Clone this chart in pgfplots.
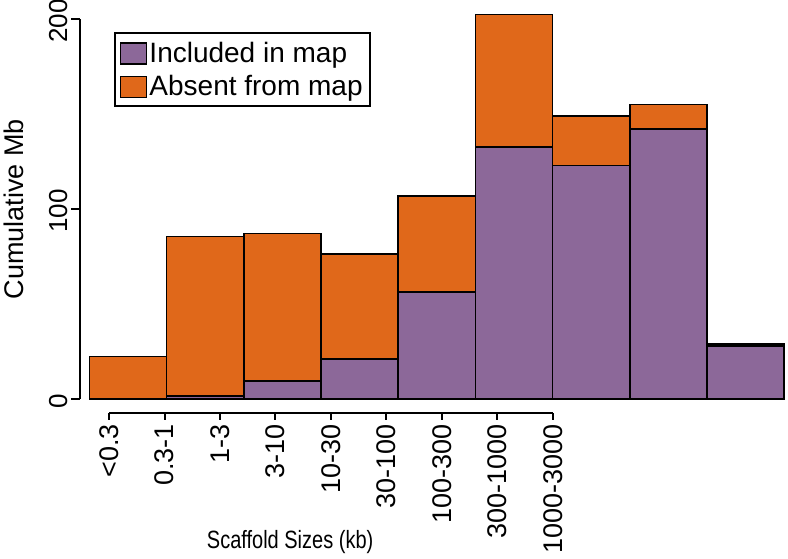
\documentclass[border=0pt]{standalone}
\usepackage{pgfplots}
\pgfplotsset{compat=1.18}
\usepackage{fontspec}
\setmainfont{Liberation Sans}
\usepackage{graphicx}

\definecolor{incl}{HTML}{8C6899}
\definecolor{absent}{HTML}{E0681A}

\begin{document}
\begin{tikzpicture}
% bars: category i spans [i, i+1]
\begin{axis}[
    at={(89.3pt,159pt)}, anchor=origin,
    x=77.2pt, y=1.9pt,
    xmin=0, xmax=9, ymin=0, ymax=210,
    enlargelimits=false,
    axis lines=none,
    clip=false,
    ybar stacked,
    bar width=1,
    legend image code/.code={\draw[#1, line width=1.6pt] (0pt,-11pt) rectangle (26pt,10pt);},
    legend style={at={(axis description cs:0.0355,0.92)}, anchor=north west,
        draw=black, line width=1.8pt, font=\fontsize{28}{33}\selectfont,
        inner xsep=5pt, inner ysep=7pt, row sep=8pt,
        legend cell align=left},
]
\addplot[fill=incl, draw=black, line width=1.6pt] coordinates {
    (0.5,0) (1.5,1.6) (2.5,9.5) (3.5,20.9) (4.5,56.3)
    (5.5,132.5) (6.5,122.8) (7.5,142.1) (8.5,27.9)
};
\addplot[fill=absent, draw=black, line width=1.6pt] coordinates {
    (0.5,22.3) (1.5,84.0) (2.5,77.5) (3.5,55.4) (4.5,50.5)
    (5.5,69.8) (6.5,26.3) (7.5,13.0) (8.5,1.2)
};
\legend{Included in map, Absent from map}
\end{axis}

% y axis, 0 to 200 only
\begin{axis}[
    at={(80pt,159pt)}, anchor=origin,
    x=1pt, y=1.9pt,
    xmin=0, xmax=1, ymin=0, ymax=200,
    enlargelimits=false,
    axis x line=none, axis y line*=left,
    ytick={0,100,200},
    tick align=outside, major tick length=9pt,
    axis line style={line width=2pt},
    tick style={line width=2pt, black},
    /pgf/number format/assume math mode=true,
    yticklabel style={rotate=90, anchor=south, xshift=-2pt, font=\fontsize{26}{30}\selectfont},
    ylabel={Cumulative Mb},
    ylabel style={at={([xshift=-66.5pt]axis description cs:0,0.5)}, anchor=center,
        font=\fontsize{27}{32}\selectfont},
]
\end{axis}

% x axis, first to last tick
\begin{axis}[
    at={(109pt,145pt)}, anchor=origin,
    x=55.5pt, y=1pt,
    xmin=0, xmax=8, ymin=0, ymax=1,
    enlargelimits=false,
    axis y line=none, axis x line*=bottom,
    xtick={0,1,2,3,4,5,6,7,8},
    xticklabels={<0.3, 0.3-1, 1-3, 3-10, 10-30, 30-100, 100-300, 300-1000, 1000-3000},
    tick align=outside, xtick align=outside, major tick length=7pt,
    axis line style={line width=2pt},
    tick style={line width=2pt, black},
    xticklabel style={rotate=90, anchor=east, inner sep=4pt, font=\fontsize{27}{31}\selectfont},
    xlabel={\scalebox{0.8}[1]{Scaffold Sizes (kb)}},
    xlabel style={at={([yshift=-129pt]axis description cs:0.408,0)}, anchor=center,
        font=\fontsize{25}{30}\selectfont},
]
\end{axis}

\pgfresetboundingbox
\useasboundingbox (0,0) rectangle (788pt,558pt);
\end{tikzpicture}
\end{document}
